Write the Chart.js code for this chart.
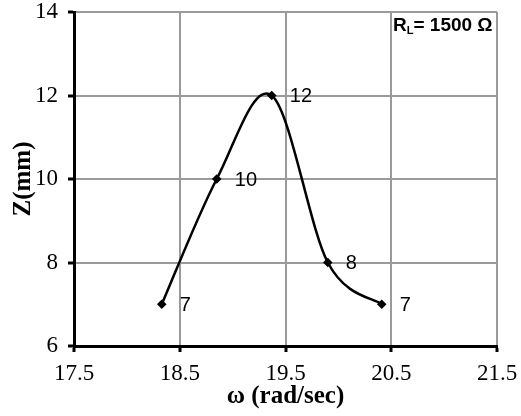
<!DOCTYPE html>
<html>
<head>
<meta charset="utf-8">
<script src="https://cdn.jsdelivr.net/npm/chart.js@4"></script>
<style>
  html, body { margin: 0; padding: 0; background: #fff; }
  #wrap { width: 521px; height: 416px; }
</style>
</head>
<body>
<div id="wrap"><canvas id="chart" width="521" height="416"></canvas></div>
<script>
// data
const omega = [18.33, 18.85, 19.37, 19.9, 20.41];
const zValues = [7, 10, 12, 8, 7];
const pointLabels = ['7', '10', '12', '8', '7'];
const xTicks = [17.5, 18.5, 19.5, 20.5, 21.5];
const yTicks = [6, 8, 10, 12, 14];

const points = omega.map((x, i) => ({ x: x, y: zValues[i] }));

// Excel style smoothing: plain Catmull-Rom control points (1/6 of the chord)
// on top of the positions Chart.js computed from the scales
const excelSmooth = {
  id: 'excelSmooth',
  beforeDatasetsDraw(chart) {
    const meta = chart.getDatasetMeta(0);
    const line = meta.dataset;
    line.updateControlPoints(chart.chartArea, 'x');
    const pts = meta.data;
    const k = 1 / 6;
    pts.forEach((p, i) => {
      const prev = pts[Math.max(i - 1, 0)];
      const next = pts[Math.min(i + 1, pts.length - 1)];
      const dx = (next.x - prev.x) * k;
      const dy = (next.y - prev.y) * k;
      p.cp1x = p.x - dx;
      p.cp1y = p.y - dy;
      p.cp2x = p.x + dx;
      p.cp2y = p.y + dy;
    });
    line._path = undefined;
  }
};

// value labels right of each point
const valueLabels = {
  id: 'valueLabels',
  afterDatasetsDraw(chart) {
    const ctx = chart.ctx;
    const meta = chart.getDatasetMeta(0);
    ctx.save();
    ctx.font = '20px "Liberation Sans", Arial, sans-serif';
    ctx.fillStyle = '#000';
    ctx.textAlign = 'left';
    ctx.textBaseline = 'middle';
    meta.data.forEach((pt, i) => {
      ctx.fillText(pointLabels[i], pt.x + 18, pt.y + 1);
    });
    ctx.restore();
  }
};

// "R_L= 1500 Ω" note in the top right corner
const loadNote = {
  id: 'loadNote',
  afterDraw(chart) {
    const ctx = chart.ctx;
    const area = chart.chartArea;
    let x = area.right - 104;
    const y = area.top + 19;
    ctx.save();
    ctx.fillStyle = '#000';
    ctx.textBaseline = 'alphabetic';
    ctx.font = 'bold 19px "Liberation Sans", Arial, sans-serif';
    ctx.fillText('R', x, y);
    x += ctx.measureText('R').width;
    ctx.font = 'bold 11px "Liberation Sans", Arial, sans-serif';
    ctx.fillText('L', x, y + 3);
    x += ctx.measureText('L').width;
    ctx.font = 'bold 19px "Liberation Sans", Arial, sans-serif';
    ctx.fillText('= 1500 \u03A9', x, y);
    ctx.restore();
  }
};

const gridStyle = {
  color: '#9a9a9a',
  lineWidth: 2,
  tickColor: '#000',
  tickWidth: 3,
  tickLength: 6
};

new Chart(document.getElementById('chart'), {
  type: 'scatter',
  data: {
    datasets: [{
      data: points,
      showLine: true,
      borderColor: '#000',
      borderWidth: 2.5,
      tension: 0.4,
      pointStyle: 'rectRot',
      pointRadius: 3,
      pointBackgroundColor: '#000',
      pointBorderColor: '#000'
    }]
  },
  options: {
    responsive: false,
    animation: false,
    layout: { padding: { top: 12, right: 24, left: 0, bottom: 0 } },
    plugins: {
      legend: { display: false },
      tooltip: { enabled: false }
    },
    scales: {
      x: {
        type: 'linear',
        min: xTicks[0],
        max: xTicks[xTicks.length - 1],
        afterBuildTicks: scale => { scale.ticks = xTicks.map(v => ({ value: v })); },
        ticks: {
          color: '#000',
          padding: 8,
          font: { family: '"Liberation Serif", "Times New Roman", serif', size: 23 },
          callback: v => Number(v).toFixed(1)
        },
        grid: gridStyle,
        border: { color: '#000', width: 3 },
        title: {
          display: true,
          text: '\u03C9 (rad/sec)',
          color: '#000',
          font: { family: '"Liberation Serif", "Times New Roman", serif', size: 25, weight: 'bold' },
          padding: { top: 0, bottom: 4 }
        },
        afterFit: scale => {
          scale.height = 70;
          scale.paddingRight = 0;
          scale.paddingLeft = 0;
        }
      },
      y: {
        type: 'linear',
        min: yTicks[0],
        max: yTicks[yTicks.length - 1],
        afterBuildTicks: scale => { scale.ticks = yTicks.map(v => ({ value: v })); },
        ticks: {
          color: '#000',
          padding: 10,
          font: { family: '"Liberation Serif", "Times New Roman", serif', size: 23 }
        },
        grid: gridStyle,
        border: { color: '#000', width: 3 },
        title: {
          display: true,
          text: 'Z(mm)',
          color: '#000',
          font: { family: '"Liberation Serif", "Times New Roman", serif', size: 25, weight: 'bold' },
          padding: { top: 9, bottom: 0 }
        },
        afterFit: scale => {
          scale.width = 74;
          scale.paddingTop = 0;
          scale.paddingBottom = 0;
        }
      }
    }
  },
  plugins: [excelSmooth, valueLabels, loadNote]
});
</script>
</body>
</html>
